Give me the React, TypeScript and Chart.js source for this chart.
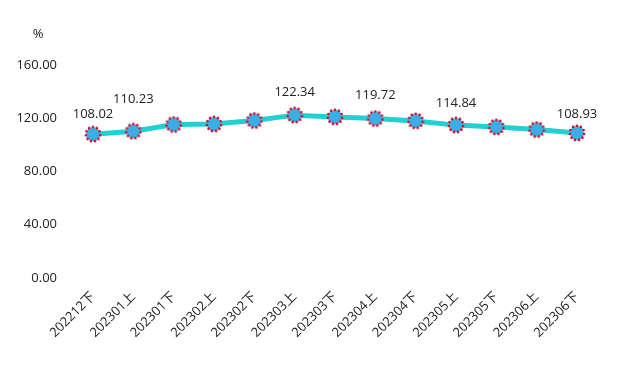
import React, { useEffect, useRef } from "react";
import { Chart, registerables } from "chart.js";

Chart.register(...registerables);

const categories = [
  "202212下", "202301上", "202301下", "202302上", "202302下", "202303上", "202303下",
  "202304上", "202304下", "202305上", "202305下", "202306上", "202306下",
];
const values = [108.02, 110.23, 115.3, 115.6, 118.3, 122.34, 121.0, 119.72, 118.0, 114.84, 113.4, 111.5, 108.93];
const labelIndices = [0, 1, 5, 7, 9, 12];
const labelLift = [20, 32, 23, 23, 22, 19];
const yTicks = [0, 40, 80, 120, 160];
const unitLabel = "%";

const FONT = "'Open Sans', 'Noto Sans CJK SC', sans-serif";

function makePointImage(): HTMLCanvasElement {
  const c = document.createElement("canvas");
  c.width = 18;
  c.height = 18;
  const ctx = c.getContext("2d")!;
  ctx.beginPath();
  ctx.arc(9, 9, 6.9, 0, Math.PI * 2);
  ctx.fillStyle = "#3aaee6";
  ctx.fill();
  const n = 11;
  ctx.fillStyle = "#d0112b";
  for (let i = 0; i < n; i++) {
    const a = (i / n) * Math.PI * 2 - Math.PI / 2;
    ctx.beginPath();
    ctx.arc(9 + Math.cos(a) * 7.2, 9 + Math.sin(a) * 7.2, 1.35, 0, Math.PI * 2);
    ctx.fill();
  }
  return c;
}

const labelPlugin = {
  id: "valueLabels",
  afterDatasetsDraw(chart: any) {
    const ctx = chart.ctx;
    const meta = chart.getDatasetMeta(0);
    ctx.save();
    ctx.font = `13px ${FONT}`;
    ctx.fillStyle = "#222";
    ctx.textAlign = "center";
    ctx.textBaseline = "middle";
    labelIndices.forEach((idx, k) => {
      const pt = meta.data[idx];
      if (!pt) return;
      ctx.fillText(values[idx].toFixed(2), pt.x, pt.y - labelLift[k]);
    });
    const ys = chart.scales.y;
    ctx.textAlign = "center";
    ctx.fillText(unitLabel, ys.left + 30, 26);
    ctx.restore();
  },
};

export default function App() {
  const ref = useRef<HTMLCanvasElement>(null);
  useEffect(() => {
    if (!ref.current) return;
    const img = makePointImage();
    const chart = new Chart(ref.current, {
      type: "line",
      data: {
        labels: categories,
        datasets: [
          {
            data: values,
            borderColor: "#22cfd2",
            borderWidth: 5,
            pointStyle: img as any,
            pointRadius: 8,
            tension: 0,
          },
        ],
      },
      options: {
        animation: false,
        responsive: false,
        maintainAspectRatio: false,
        layout: { padding: { top: 57, right: 33, left: 0, bottom: 0 } },
        plugins: { legend: { display: false }, tooltip: { enabled: false } },
        scales: {
          x: {
            offset: false,
            grid: { display: false },
            border: { display: false },
            ticks: {
              autoSkip: false,
              minRotation: 45,
              maxRotation: 45,
              color: "#222",
              font: { size: 13, family: FONT },
              padding: 3,
            },
            afterFit: (s: any) => {
              s.height = 80;
            },
          },
          y: {
            min: 0,
            max: 160,
            grid: { display: false },
            border: { display: false },
            afterBuildTicks: (s: any) => {
              s.ticks = yTicks.map((v) => ({ value: v }));
            },
            ticks: {
              color: "#222",
              font: { size: 13, family: FONT },
              padding: 28,
              callback: (v: any) => Number(v).toFixed(2),
            },
            afterFit: (s: any) => {
              s.width = 85;
            },
          },
        },
      },
      plugins: [labelPlugin],
    });
    return () => chart.destroy();
  }, []);
  return (
    <div style={{ width: 602, height: 350 }}>
      <canvas ref={ref} width={602} height={350} style={{ width: 602, height: 350 }} />
    </div>
  );
}
